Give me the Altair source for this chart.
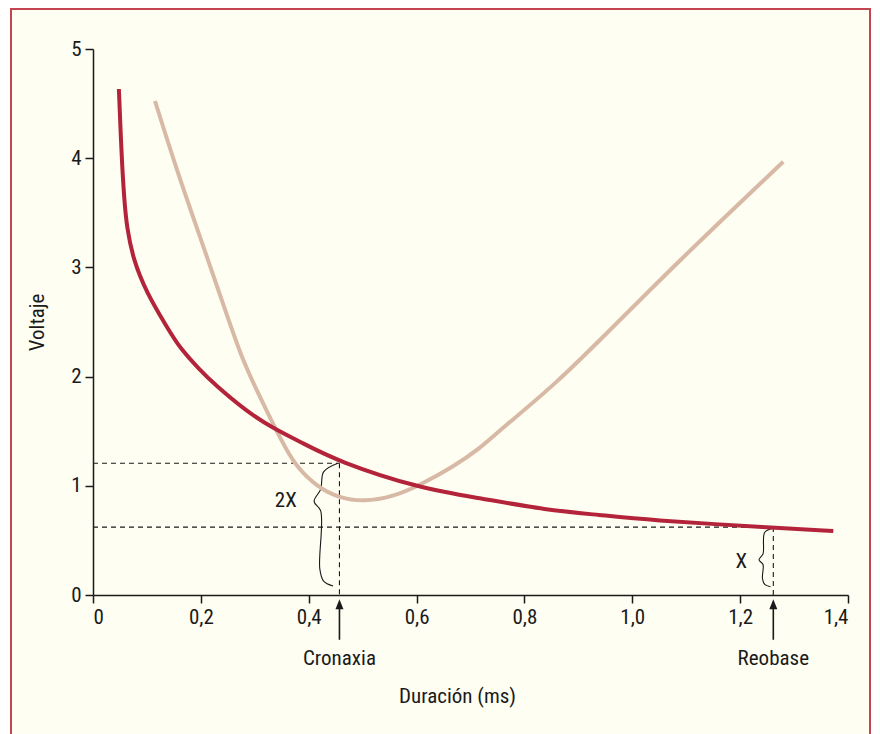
import altair as alt
import pandas as pd

# ---- data ----
red_x = [0.048, 0.053, 0.058, 0.0625, 0.0747, 0.0996, 0.1367, 0.1613, 0.1984, 0.2231,
         0.2850, 0.3343, 0.3838, 0.4549, 0.6059, 0.7176, 0.8413, 0.9401, 1.0267, 1.2615, 1.3727]
red_y = [4.634, 4.014, 3.617, 3.373, 3.068, 2.766, 2.457, 2.259, 2.060, 1.939,
         1.679, 1.527, 1.404, 1.221, 0.977, 0.886, 0.778, 0.733, 0.687, 0.616, 0.586]

beige_x = [0.115, 0.1552, 0.1984, 0.2416, 0.2757, 0.3035, 0.3406, 0.3592, 0.3777,
           0.4148, 0.4580, 0.5012, 0.5568, 0.6063, 0.6681, 0.7176, 0.7547, 0.8598, 0.9648,
           1.0885, 1.2121, 1.280]
beige_y = [4.524, 3.892, 3.281, 2.660, 2.170, 1.877, 1.497, 1.328, 1.175,
           0.992, 0.886, 0.854, 0.900, 1.007, 1.175, 1.343, 1.511, 1.939, 2.457,
           3.068, 3.650, 3.968]

x_ticks = [0, 0.2, 0.4, 0.6, 0.8, 1.0, 1.2, 1.4]
y_ticks = [0, 1, 2, 3, 4, 5]

cronaxia_x = 0.457
cronaxia_v = 1.206
reobase_x = 1.2615
reobase_v = 0.622

arrow_labels = ["Cronaxia", "Reobase"]
arrow_x = [cronaxia_x, reobase_x]
label_y = -0.64
arrow_top = -0.085
arrow_bottom = -0.41

brace_labels = ["2X", "X"]
brace_label_x = [0.3575, 1.2022]
brace_label_y = [0.81, 0.245]

# ---- styling ----
FONT = "Liberation Sans Narrow, Roboto Condensed, DejaVu Sans Condensed, sans-serif"
INK = "#1a1a1a"
RED = "#b3243a"
BEIGE = "#d7b9a5"
CREAM = "#fffef2"
FRAME = "#c44552"
FS = 21

xs = alt.Scale(domain=[0, 1.4], nice=False, zero=False)
ys = alt.Scale(domain=[0, 5], nice=False, zero=False)

red_df = pd.DataFrame({"x": red_x, "y": red_y})
beige_df = pd.DataFrame({"x": beige_x, "y": beige_y})

frame = alt.Chart(pd.DataFrame({"a": [0]})).mark_rect(
    fill=CREAM, stroke=FRAME, strokeWidth=2
).encode(x=alt.value(-82), x2=alt.value(777), y=alt.value(-40), y2=alt.value(711))

axes = alt.Chart(red_df).mark_point(opacity=0).encode(
    x=alt.X("x:Q", scale=xs, axis=alt.Axis(
        values=x_ticks, title="Duración (ms)", zindex=2,
        labelExpr="datum.value == 0 ? '0' : replace(format(datum.value, '.1f'), '.', ',')",
        titleX=364, titleY=107, titleBaseline="alphabetic", titleAnchor="middle", titleAlign="center")),
    y=alt.Y("y:Q", scale=ys, axis=alt.Axis(
        values=y_ticks, title="Voltaje", format="d", zindex=2,
        titleX=-50, titleY=273, titleAngle=270, titleBaseline="alphabetic", titleAlign="center")),
)

seg_df = pd.DataFrame({
    "x": [0, cronaxia_x, 0, reobase_x],
    "x2": [cronaxia_x, cronaxia_x, reobase_x, reobase_x],
    "y": [cronaxia_v, cronaxia_v, reobase_v, reobase_v],
    "y2": [cronaxia_v, 0, reobase_v, 0],
})
dashes = alt.Chart(seg_df).mark_rule(color=INK, strokeWidth=1.1, strokeDash=[5, 4]).encode(
    x=alt.X("x:Q", scale=xs), x2="x2:Q", y=alt.Y("y:Q", scale=ys), y2="y2:Q"
)


def brace(name, x_right, y_top, y_bottom, tip, depth):
    shape = [(0, 0), (-0.6, 0.07), (-0.72, max(0.12, tip - 0.1)), (-1, tip),
             (-0.72, tip + 0.08), (-0.76, 0.86), (-0.6, 0.96), (-0.2, 1.0)]
    rows = []
    for i, (dx, fy) in enumerate(shape):
        rows.append({"b": name, "o": i, "x": x_right + dx * depth,
                     "y": y_top - fy * (y_top - y_bottom)})
    return rows


brace_df = pd.DataFrame(
    brace("2X", cronaxia_x - 0.003, cronaxia_v, 0.082, 0.31, 0.044)
    + brace("X", reobase_x, reobase_v - 0.01, 0.076, 0.54, 0.0265)
)
braces = alt.Chart(brace_df).mark_line(color=INK, strokeWidth=1.1, interpolate="catmull-rom").encode(
    x=alt.X("x:Q", scale=xs), y=alt.Y("y:Q", scale=ys), detail="b:N", order="o:Q"
)

beige = alt.Chart(beige_df).mark_line(color=BEIGE, strokeWidth=4, interpolate="basis").encode(
    x=alt.X("x:Q", scale=xs), y=alt.Y("y:Q", scale=ys)
)
red = alt.Chart(red_df).mark_line(color=RED, strokeWidth=4, interpolate="basis").encode(
    x=alt.X("x:Q", scale=xs), y=alt.Y("y:Q", scale=ys)
)

arr_df = pd.DataFrame({"label": arrow_labels, "x": arrow_x,
                       "top": [arrow_top] * 2, "bottom": [arrow_bottom] * 2,
                       "ly": [label_y] * 2})
arrow_lines = alt.Chart(arr_df).mark_rule(color=INK, strokeWidth=1.6).encode(
    x=alt.X("x:Q", scale=xs), y=alt.Y("top:Q", scale=ys), y2="bottom:Q"
)
arrow_heads = alt.Chart(arr_df).mark_point(
    shape="M0,-1L0.8,1L-0.8,1Z", filled=True, color=INK, size=100, opacity=1
).encode(x=alt.X("x:Q", scale=xs), y=alt.Y("top:Q", scale=ys))
arrow_text = alt.Chart(arr_df).mark_text(
    font=FONT, fontSize=FS, color=INK, baseline="alphabetic", align="center"
).encode(x=alt.X("x:Q", scale=xs), y=alt.Y("ly:Q", scale=ys), text="label:N")

bl_df = pd.DataFrame({"label": brace_labels, "x": brace_label_x, "y": brace_label_y})
brace_text = alt.Chart(bl_df).mark_text(
    font=FONT, fontSize=FS, color=INK, baseline="alphabetic", align="center"
).encode(x=alt.X("x:Q", scale=xs), y=alt.Y("y:Q", scale=ys), text="label:N")

chart = alt.layer(
    frame, axes, dashes, braces, beige, red, arrow_lines, arrow_heads, arrow_text, brace_text
).properties(
    width=755, height=546, padding={"left": 2, "top": 0, "right": 0, "bottom": 0}
).configure(background="white").configure_view(stroke="transparent").configure_axis(
    grid=False, domainColor=INK, domainWidth=1.5, tickColor=INK, tickWidth=1.5, tickSize=8,
    labelFont=FONT, labelFontSize=FS, labelColor=INK, labelPadding=4,
    titleFont=FONT, titleFontSize=FS, titleColor=INK, titleFontWeight="normal",
).configure_axisX(labelPadding=3)

chart.save("out.html", embed_options={"renderer": "svg", "actions": False})
